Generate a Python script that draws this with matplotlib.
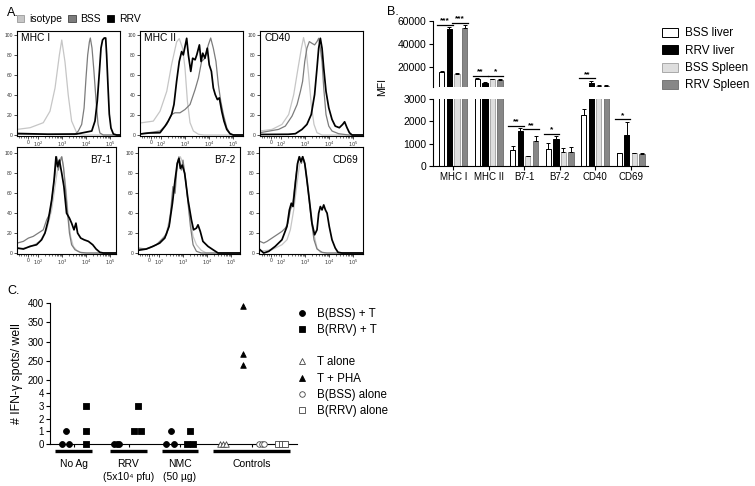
import matplotlib
matplotlib.use('Agg')
import matplotlib.pyplot as plt
from matplotlib.lines import Line2D
from matplotlib.patches import Patch
import numpy as np

plt.rcParams['font.family'] = ['Liberation Sans', 'DejaVu Sans']
plt.rcParams['axes.linewidth'] = 0.8

# ============================================================
# Panel A: flow histograms, (display position, % of max)
# display position: 3 = 10^3, 4 = 10^4 ... (logicle-like axis)
# ============================================================
MHC1_ISO = [(1.13, 5.6), (1.67, 7.3), (2.22, 12.3), (2.5, 23.8), (2.71, 47), (2.89, 80),
            (2.99, 95), (3.125, 73), (3.26, 40), (3.40, 14), (3.61, 2.3), (3.82, 0), (5.4, 0)]
MHC1_BSS = [(1.13, 1), (2.6, 0.5), (3.54, 0.5), (3.68, 4), (3.82, 10.6), (3.92, 27), (4.0, 57),
            (4.07, 80), (4.14, 93), (4.18, 97), (4.25, 87), (4.33, 64), (4.42, 34), (4.5, 11),
            (4.58, 2), (4.72, 0), (5.4, 0)]
MHC1_RRV = [(1.13, 1.5), (2.4, 0.8), (3.61, 1), (4.24, 4), (4.375, 14), (4.47, 34), (4.56, 64),
            (4.625, 87), (4.69, 95), (4.76, 97), (4.82, 97), (4.86, 80), (4.92, 47), (4.97, 21),
            (5.04, 7), (5.14, 1), (5.28, 0), (5.4, 0)]

MHC2_ISO = [(1.125, 12), (1.68, 13.9), (1.96, 23.8), (2.24, 43.7), (2.44, 70.2), (2.65, 93),
            (2.76, 96.4), (2.90, 86.8), (3.0, 66.9), (3.10, 33.8), (3.21, 12.3), (3.35, 4),
            (3.56, 0.7), (3.8, 0), (5.4, 0)]
MHC2_BSS = [(1.125, 1), (1.96, 4), (2.24, 10.6), (2.44, 20.5), (2.58, 22.2), (2.79, 22.2),
            (3.0, 25.5), (3.21, 30.5), (3.42, 45.4), (3.56, 57), (3.69, 73.5), (3.83, 76.8),
            (3.97, 90), (4.07, 97), (4.18, 86.8), (4.29, 73.5), (4.39, 50.3), (4.49, 33.8),
            (4.6, 20.5), (4.74, 7.3), (4.875, 1.3), (5.01, 0), (5.4, 0)]
MHC2_RRV = [(1.125, 1), (1.5, 2), (1.96, 2.3), (2.17, 8.9), (2.30, 13.9), (2.44, 20.5),
            (2.54, 30.5), (2.65, 53.6), (2.76, 73.5), (2.86, 83.4), (2.93, 80.1), (3.0, 88.4),
            (3.07, 96.7), (3.14, 80.1), (3.24, 63.6), (3.32, 76.8), (3.42, 75.2), (3.49, 80.1),
            (3.60, 90.1), (3.67, 73.5), (3.74, 81.8), (3.83, 76.8), (3.93, 86.8), (4.01, 70.2),
            (4.10, 63.6), (4.18, 47), (4.26, 40.4), (4.35, 35.4), (4.43, 37.1), (4.53, 23.8),
            (4.625, 13.9), (4.74, 5.6), (4.875, 1.3), (5.01, 0), (5.4, 0)]

CD40_ISO = [(1.125, 4), (1.625, 5.6), (2.04, 10.6), (2.32, 20.5), (2.53, 40.4), (2.71, 66.9),
            (2.85, 86.8), (2.94, 97.4), (3.04, 86.8), (3.15, 60.3), (3.26, 30.5), (3.375, 10.6),
            (3.5, 2.3), (3.71, 0), (5.4, 0)]
CD40_BSS = [(1.125, 2.3), (1.90, 5.6), (2.18, 8.9), (2.46, 18.9), (2.67, 30.5), (2.81, 43.7),
            (2.90, 53.6), (2.99, 73.5), (3.08, 86.8), (3.18, 93.4), (3.29, 91.7), (3.40, 90.1),
            (3.5, 93.4), (3.57, 96.7), (3.64, 86.8), (3.71, 73.5), (3.78, 47), (3.875, 20.5),
            (3.99, 8.9), (4.125, 4), (4.40, 1.3), (4.82, 0), (5.4, 0)]
CD40_RRV = [(1.125, 0.5), (2.3, 0.7), (2.60, 1.3), (2.875, 5.6), (3.08, 10.6), (3.26, 20.5),
            (3.40, 40.4), (3.5, 66.9), (3.57, 86.8), (3.64, 96.7), (3.71, 86.8), (3.78, 66.9),
            (3.875, 43.7), (3.99, 27.2), (4.125, 15.6), (4.26, 8.9), (4.43, 7.3), (4.57, 10.6),
            (4.65, 13.2), (4.75, 7.3), (4.85, 2.3), (4.96, 0), (5.4, 0)]

B71_ISO = [(1.14, 4), (1.67, 6), (2.08, 11.7), (2.36, 23.3), (2.57, 43.3), (2.71, 66.7),
           (2.81, 83.3), (2.92, 95), (2.99, 96.7), (3.06, 86.7), (3.17, 63.3), (3.26, 36.7),
           (3.36, 16.7), (3.47, 6.7), (3.61, 2.7), (3.82, 0), (5.3, 0)]
B71_BSS = [(1.14, 10), (1.39, 11.7), (1.60, 15), (1.80, 16.7), (2.01, 20), (2.22, 23.3),
           (2.36, 33.3), (2.5, 40), (2.61, 60), (2.71, 80), (2.78, 96.7), (2.85, 83.3),
           (2.92, 91.7), (2.99, 96.7), (3.06, 86.7), (3.125, 70), (3.22, 43.3), (3.31, 20),
           (3.40, 8.3), (3.54, 3.3), (3.75, 0.7), (4.03, 0), (5.3, 0)]
B71_RRV = [(1.14, 5), (1.39, 4), (1.67, 6.7), (1.94, 8.3), (2.15, 13.3), (2.29, 20), (2.43, 33.3),
           (2.57, 53.3), (2.67, 73.3), (2.75, 96.7), (2.82, 86.7), (2.89, 93.3), (2.99, 80),
           (3.08, 66.7), (3.19, 40), (3.31, 35), (3.40, 30), (3.5, 23.3), (3.58, 30), (3.65, 20),
           (3.78, 15), (3.92, 13.3), (4.10, 11.7), (4.28, 8.3), (4.42, 4), (4.58, 0.7),
           (4.72, 0), (5.3, 0)]

B72_ISO = [(1.13, 3.3), (1.61, 5), (2.03, 10), (2.31, 20), (2.51, 43.3), (2.65, 70), (2.79, 90),
           (2.89, 96.7), (3.0, 90), (3.14, 66.7), (3.28, 36.7), (3.42, 16.7), (3.56, 8.3),
           (3.76, 2.7), (3.97, 0), (5.4, 0)]
B72_BSS = [(1.13, 5), (1.47, 4), (1.89, 8.3), (2.17, 15), (2.31, 18.3), (2.44, 30), (2.58, 66.7),
           (2.67, 60), (2.76, 90), (2.83, 96.7), (2.93, 83.3), (3.0, 93.3), (3.11, 73.3),
           (3.21, 50), (3.31, 26.7), (3.42, 8.3), (3.56, 1.7), (3.76, 0), (5.4, 0)]
B72_RRV = [(1.13, 2.7), (1.47, 4), (1.75, 6.7), (2.03, 10), (2.24, 15), (2.42, 26.7), (2.56, 50),
           (2.67, 73.3), (2.76, 90), (2.83, 95), (2.89, 85), (2.97, 88.3), (3.07, 80),
           (3.21, 53.3), (3.35, 33.3), (3.44, 23.3), (3.56, 25), (3.625, 28.3), (3.72, 21.7),
           (3.83, 11.7), (4.04, 6.7), (4.25, 3.3), (4.46, 0), (5.4, 0)]

CD69_ISO = [(1.125, 1.7), (1.625, 3.3), (2.04, 8.3), (2.25, 13.3), (2.39, 23.3), (2.53, 43.3),
            (2.67, 70), (2.78, 90), (2.875, 95), (2.97, 93.3), (3.08, 76.7), (3.22, 46.7),
            (3.36, 20), (3.5, 5), (3.64, 0.7), (3.85, 0), (5.4, 0)]
CD69_BSS = [(1.125, 11.7), (1.28, 10), (1.42, 11.7), (1.625, 15), (1.83, 18.3), (2.04, 21.7),
            (2.18, 25), (2.29, 30), (2.39, 43.3), (2.49, 50), (2.6, 73.3), (2.69, 90),
            (2.78, 96.7), (2.85, 90), (2.92, 96.7), (3.01, 86.7), (3.125, 63.3), (3.26, 33.3),
            (3.375, 13.3), (3.5, 4), (3.71, 0.7), (3.92, 0), (5.4, 0)]
CD69_RRV = [(1.125, 3.3), (1.28, 0), (1.49, 1.7), (1.76, 6.7), (2.04, 13.3), (2.25, 26.7),
            (2.35, 43.3), (2.43, 50), (2.5, 46.7), (2.6, 70), (2.69, 90), (2.76, 96.7),
            (2.83, 91.7), (2.9, 96.7), (2.99, 90), (3.08, 73.3), (3.18, 53.3), (3.29, 30),
            (3.40, 18.3), (3.5, 23.3), (3.57, 40), (3.64, 46.7), (3.71, 43.3), (3.78, 48.3),
            (3.85, 43.3), (3.92, 40), (4.01, 26.7), (4.125, 13.3), (4.26, 5), (4.375, 0.7),
            (4.54, 0), (5.4, 0)]

HIST_NAMES = ['MHC I', 'MHC II', 'CD40', 'B7-1', 'B7-2', 'CD69']
HIST_CURVES = [(MHC1_ISO, MHC1_BSS, MHC1_RRV), (MHC2_ISO, MHC2_BSS, MHC2_RRV),
               (CD40_ISO, CD40_BSS, CD40_RRV), (B71_ISO, B71_BSS, B71_RRV),
               (B72_ISO, B72_BSS, B72_RRV), (CD69_ISO, CD69_BSS, CD69_RRV)]
HIST_XTICKS = [1.58, 2, 3, 4, 5]
HIST_XTICKLABELS = ['0', '$10^2$', '$10^3$', '$10^4$', '$10^5$']
HIST_YTICKS = [0, 20, 40, 60, 80, 100]

# ============================================================
# Panel B: MFI bars (mean, upper SEM)
# ============================================================
B_MARKERS = ['MHC I', 'MHC II', 'B7-1', 'B7-2', 'CD40', 'CD69']
BSS_LIVER = [16500, 10000, 700, 750, 2300, 560]
BSS_LIVER_ERR = [400, 600, 200, 280, 250, 30]
RRV_LIVER = [52500, 7000, 1550, 1200, 6500, 1400]
RRV_LIVER_ERR = [2200, 400, 150, 120, 1800, 570]
BSS_SPLEEN = [14500, 10000, 430, 620, 4400, 560]
BSS_SPLEEN_ERR = [500, 500, 20, 180, 300, 30]
RRV_SPLEEN = [53500, 9500, 1100, 630, 4400, 520]
RRV_SPLEEN_ERR = [2500, 600, 220, 200, 300, 40]
B_LEGEND = ['BSS liver', 'RRV liver', 'BSS Spleen', 'RRV Spleen']
# (marker index, which pair, line height, stars)
B_SIG = [(0, 'liver', 56500, '***'), (0, 'spleen', 58000, '***'),
         (1, 'liver', 12800, '**'), (1, 'spleen', 12800, '*'),
         (4, 'liver', 10800, '**'),
         (2, 'liver', 1800, '**'), (2, 'spleen', 1650, '**'),
         (3, 'liver', 1450, '*'),
         (5, 'liver', 2100, '*')]

# ============================================================
# Panel C: IFN-gamma ELISPOT (x = position within group, y = spots/well)
# ============================================================
C_BSS_T_X = [62.3, 69.3, 65.7, 114.3, 116.7, 119.3, 165.7, 170.7, 174.0]
C_BSS_T_Y = [0, 0, 1, 0, 0, 0, 0, 1, 0]
C_RRV_T_X = [85.7, 85.7, 85.7, 134.3, 137.7, 141.0, 186.7, 190.0, 193.3]
C_RRV_T_Y = [0, 1, 3, 1, 3, 1, 0, 1, 0]
C_T_ALONE_X = [220.0, 222.7, 225.7]
C_T_ALONE_Y = [0, 0, 0]
C_T_PHA_X = [242.7, 242.7, 242.7]
C_T_PHA_Y = [393, 267, 240]
C_BSS_ALONE_X = [259.3, 261.7, 264.0]
C_BSS_ALONE_Y = [0, 0, 0]
C_RRV_ALONE_X = [278.3, 281.7, 285.0]
C_RRV_ALONE_Y = [0, 0, 0]
C_GROUPS = ['No Ag', 'RRV\n(5x10\u2074 pfu)', 'NMC\n(50 \u00b5g)', 'Controls']
C_GROUP_SPAN = [(55, 92), (110, 147), (162, 198), (213, 290)]

W, H = 755, 486


def box(l, t, r, b):
    return [l / W, 1 - b / H, (r - l) / W, (b - t) / H]


fig = plt.figure(figsize=(W / 100, H / 100), dpi=100)

# ---------------- panel A ----------------
ISO_C, BSS_C, RRV_C = '#c6c6c6', '#7c7c7c', '#000000'
frames = [(17, 31, 120, 136, 62), (140, 31, 243, 136, 185), (260, 31, 363, 136, 305),
          (17, 147, 116, 254, 62), (138, 147, 240, 254, 183), (259, 147, 363, 254, 305)]
minor = [1.2, 1.3, 1.4, 1.5, 1.7, 1.8, 1.9]
for n in (2, 3, 4):
    minor += [n + np.log10(k) for k in range(2, 10)]

for i, ((l, t, r, b, c3), name, curves) in enumerate(zip(frames, HIST_NAMES, HIST_CURVES)):
    ax = fig.add_axes(box(l, t, r, b))
    for pts, col, lw in zip(curves, (ISO_C, BSS_C, RRV_C), (0.9, 0.9, 1.25)):
        xs, ys = zip(*pts)
        ax.plot(xs, ys, color=col, lw=lw)
    ax.set_xlim(3 + (l - c3) / 24, 3 + (r - c3) / 24)
    ax.set_ylim(-1, 104 if i < 3 else 106.5)
    ax.set_xticks(HIST_XTICKS)
    ax.set_xticklabels(HIST_XTICKLABELS)
    ax.set_xticks(minor, minor=True)
    ax.set_yticks(HIST_YTICKS)
    ax.tick_params(labelsize=3.6, length=2, width=0.5, pad=1, labelcolor='#333333')
    ax.tick_params(which='minor', length=1.2, width=0.4)
    if i < 3:
        ax.text(0.04, 0.985, name, transform=ax.transAxes, ha='left', va='top', fontsize=7.4)
    else:
        ax.text(0.955, 0.925, name, transform=ax.transAxes, ha='right', va='top', fontsize=7.2)

fig.text(7 / W, 1 - 13 / H, 'A.', fontsize=9, va='center')
a_handles = [Patch(facecolor=ISO_C, edgecolor='#999999', lw=0.6),
             Patch(facecolor=BSS_C, edgecolor='#444444', lw=0.6),
             Patch(facecolor=RRV_C, edgecolor='black', lw=0.6)]
fig.legend(a_handles, ['isotype', 'BSS', 'RRV'], loc='upper left',
           bbox_to_anchor=(17 / W, 1 - 14 / H), ncol=3, frameon=False, fontsize=7.5,
           handlelength=0.7, handleheight=0.7, handletextpad=0.45, columnspacing=0.6,
           borderpad=0, borderaxespad=0)

# ---------------- panel B ----------------
axb_top = fig.add_axes(box(433, 20.7, 648, 87.3))
axb_bot = fig.add_axes(box(433, 99.3, 648, 165.7))
xg = np.arange(len(B_MARKERS))
B_OFFSETS = [-0.32, -0.105, 0.105, 0.32]
series = [(BSS_LIVER, BSS_LIVER_ERR, 'white', 'black'),
          (RRV_LIVER, RRV_LIVER_ERR, 'black', 'black'),
          (BSS_SPLEEN, BSS_SPLEEN_ERR, '#dedede', '#a9a9a9'),
          (RRV_SPLEEN, RRV_SPLEEN_ERR, '#878787', '#777777')]
for ax in (axb_top, axb_bot):
    for off, (vals, errs, fc, ec) in zip(B_OFFSETS, series):
        ax.bar(xg + off, vals, width=0.145, color=fc, edgecolor=ec, linewidth=0.7, zorder=2)
        ax.errorbar(xg + off, vals, yerr=[np.zeros(len(vals)), errs], fmt='none',
                    ecolor='black', elinewidth=0.7, capsize=1.5, capthick=0.7, zorder=3)
    ax.set_xlim(-0.57, 5.49)
    ax.spines['top'].set_visible(False)
    ax.spines['right'].set_visible(False)
    ax.tick_params(labelsize=7.5, length=3, width=0.8, pad=1.5)

axb_top.set_ylim(3000, 60000)
axb_top.set_yticks([20000, 40000, 60000])
axb_top.spines['bottom'].set_visible(False)
axb_top.set_xticks([])
axb_bot.set_ylim(0, 3000)
axb_bot.set_yticks([0, 1000, 2000, 3000])
axb_bot.set_xticks(xg)
axb_bot.set_xticklabels(B_MARKERS, fontsize=7)

for gi, pair, yv, stars in B_SIG:
    ax = axb_top if yv > 3000 else axb_bot
    i1, i2 = (0, 1) if pair == 'liver' else (2, 3)
    x1, x2 = xg[gi] + B_OFFSETS[i1] - 0.13, xg[gi] + B_OFFSETS[i2] + 0.09
    ax.plot([x1, x2], [yv, yv], color='black', lw=0.9, clip_on=False, zorder=4)
    ax.annotate(stars, ((x1 + x2) / 2, yv), xytext=(0, 0.3), textcoords='offset points',
                ha='center', va='bottom', fontsize=6, fontweight='bold', annotation_clip=False)

fig.text(387 / W, 1 - 12 / H, 'B.', fontsize=9, va='center')
fig.text(382.5 / W, 1 - 87 / H, 'MFI', rotation=90, fontsize=7.5, ha='center', va='center')
b_handles = [Patch(facecolor=fc, edgecolor=('black' if fc in ('white', 'black') else ec), lw=0.7)
             for _, _, fc, ec in series]
fig.legend(b_handles, B_LEGEND, loc='upper left', bbox_to_anchor=(662 / W, 1 - 27.5 / H),
           frameon=False, fontsize=8.5, handlelength=1.36, handleheight=0.8,
           handletextpad=0.6, labelspacing=0.45, borderpad=0, borderaxespad=0)

# ---------------- panel C ----------------
axc_up = fig.add_axes(box(50, 303.3, 297, 393.3))
axc_lo = fig.add_axes(box(50, 393.3, 297, 444))
for ax in (axc_up, axc_lo):
    ax.set_xlim(50, 297)
    ax.spines['top'].set_visible(False)
    ax.spines['right'].set_visible(False)
    ax.tick_params(labelsize=7, length=3, width=0.8, pad=1.5)
axc_up.spines['bottom'].set_visible(False)
axc_up.set_xticks([])
axc_up.set_ylim(165.4, 400)
axc_up.set_yticks([200, 250, 300, 350, 400])
axc_lo.set_ylim(0, 4)
axc_lo.set_yticks([0, 1, 2, 3, 4])

c_series = [(C_BSS_T_X, C_BSS_T_Y, 'o', 'black', 18, 'B(BSS) + T'),
            (C_RRV_T_X, C_RRV_T_Y, 's', 'black', 15, 'B(RRV) + T'),
            (C_T_ALONE_X, C_T_ALONE_Y, '^', 'white', 16, 'T alone'),
            (C_T_PHA_X, C_T_PHA_Y, '^', 'black', 16, 'T + PHA'),
            (C_BSS_ALONE_X, C_BSS_ALONE_Y, 'o', 'white', 16, 'B(BSS) alone'),
            (C_RRV_ALONE_X, C_RRV_ALONE_Y, 's', 'white', 15, 'B(RRV) alone')]
c_handles = []
for xs, ys, mk, fc, s, lab in c_series:
    xs, ys = np.array(xs), np.array(ys)
    hi = ys > 100
    ec = 'black' if fc == 'black' else '#444444'
    for ax, m in ((axc_up, hi), (axc_lo, ~hi)):
        if m.any():
            ax.scatter(xs[m], ys[m], marker=mk, s=s, facecolor=fc, edgecolor=ec,
                       linewidths=0.6, clip_on=False, zorder=3)
    c_handles.append(Line2D([], [], ls='none', marker=mk, markersize=np.sqrt(s),
                            markerfacecolor=fc, markeredgecolor=ec, markeredgewidth=0.6))

centers = [(a + b) / 2 for a, b in C_GROUP_SPAN]
axc_lo.set_xticks(centers)
axc_lo.set_xticklabels(C_GROUPS, fontsize=7.5)
axc_lo.tick_params(axis='x', length=2, pad=9)
for lab in axc_lo.get_xticklabels():
    lab.set_linespacing(1.3)
for a, b in C_GROUP_SPAN:
    axc_lo.plot([a, b], [-0.13, -0.13], transform=axc_lo.get_xaxis_transform(),
                color='black', lw=2.4, solid_capstyle='butt', clip_on=False)

fig.text(7 / W, 1 - 291 / H, 'C.', fontsize=9, va='center')
fig.text(17 / W, 1 - 374 / H, '# IFN-\u03b3 spots/ well', rotation=90, fontsize=8.8,
         ha='center', va='center')

blank = Line2D([], [], ls='none')
labels = [c[5] for c in c_series]
fig.legend(c_handles[:2] + [blank] + c_handles[2:], labels[:2] + [''] + labels[2:],
           loc='upper left', bbox_to_anchor=(296 / W, 1 - 308 / H), frameon=False,
           fontsize=8.3, handlelength=1.0, handletextpad=0.85, labelspacing=0.36,
           borderpad=0, borderaxespad=0)

plt.savefig('out.png', dpi=100)
